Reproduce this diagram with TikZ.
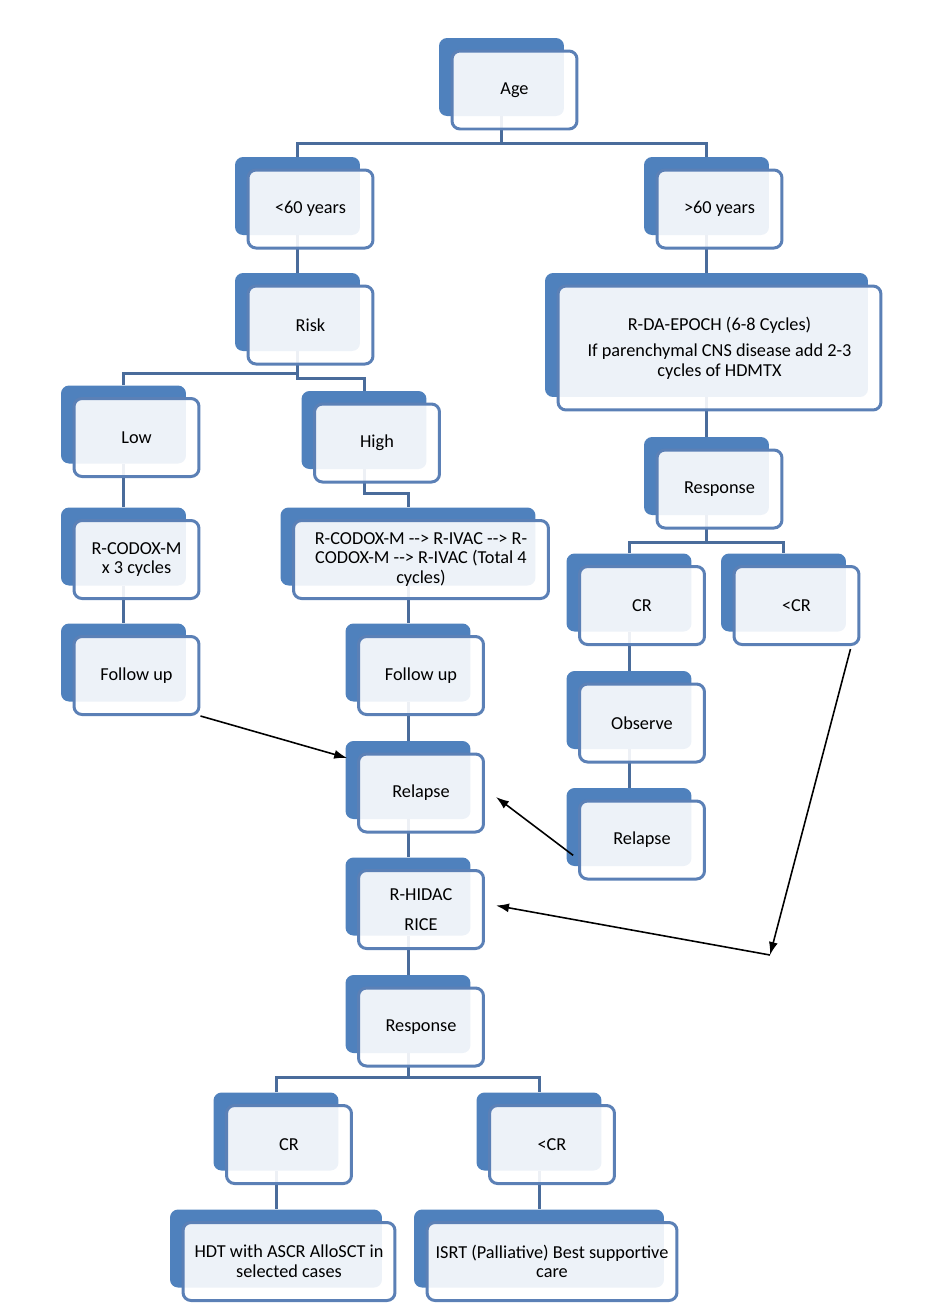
\documentclass[tikz,border=0pt]{standalone}
\usepackage{fontspec}
\setmainfont{Carlito}
\usetikzlibrary{calc,arrows.meta,backgrounds}
\definecolor{boxblue}{HTML}{4F81BD}
\definecolor{edgeblue}{HTML}{5B80B6}
\definecolor{tieblue}{HTML}{4A6C9B}
\tikzset{
	backbox/.style={rectangle, rounded corners=0.16cm, fill=boxblue, inner sep=0pt, minimum width=2.5cm, minimum height=1.56cm},
	frontbox/.style={rectangle, rounded corners=0.16cm, draw=edgeblue, line width=0.06cm, fill=white, fill opacity=0.9, text opacity=1, inner sep=0pt, minimum width=2.5cm, minimum height=1.56cm, align=center, font=\fontsize{10.4}{11.2}\selectfont},
	tie/.style={draw=tieblue, line width=0.06cm},
	flowarrow/.style={-{Latex[length=0.26cm,width=0.18cm]}, line width=0.9pt, black}
}
\def\darr{-\kern0pt->}
\newcommand\flowbox[4][]{%
	\node[backbox,#1] (#2) at (#3) {};
	\node[frontbox,#1] (#2-f) at ($(#2)+(13,13)$) {#4};
}

\begin{document}
\begin{tikzpicture}[x=0.02cm,y=-0.02cm]
		\useasboundingbox (0,0) rectangle (940,1313);
		%%%%% START %%%%%
		
		\flowbox{age}{501.5,77}{Age}
		\flowbox{young}{297.5,196}{<60 years}
		\flowbox{old}{706.5,196}{>60 years}
		\flowbox{risk}{297.5,312}{Risk}
		\flowbox[minimum width=6.46cm, minimum height=2.48cm]{epoch}{706.5,335}{R-DA-EPOCH (6-8 Cycles)\\[4pt]If parenchymal CNS disease add 2-3\\cycles of HDMTX}
		
		\flowbox{low}{123.5,424.5}{Low}
		\flowbox{high}{364,430}{High}
		\flowbox{respR}{706.5,476}{Response}
		
		\flowbox{codox}{123.5,546.5}{R-CODOX-M\\x 3 cycles}
		\flowbox[minimum width=5.1cm]{codoxlong}{408,546.5}{R-CODOX-M \darr{} R-IVAC \darr{} R-\\CODOX-M \darr{} R-IVAC (Total 4\\cycles)}
		\flowbox{crR}{629,592.5}{CR}
		\flowbox{lesscrR}{783.5,592.5}{<CR}
		
		\flowbox{follL}{123.5,662.5}{Follow up}
		\flowbox{follM}{408,662.5}{Follow up}
		\flowbox{observe}{629,710}{Observe}
		\flowbox{relapseM}{408,780}{Relapse}
		\flowbox{relapseR}{629,827}{Relapse}
		\flowbox{hidac}{408,896.5}{R-HIDAC\\[5.5pt]RICE}
		\flowbox{respB}{408,1014}{Response}
		
		\flowbox{crB}{276,1131.5}{CR}
		\flowbox{lesscrB}{539,1131.5}{<CR}
		\flowbox[minimum width=4.24cm]{hdt}{276,1248.5}{HDT with ASCR AlloSCT in\\selected cases}
		\flowbox[minimum width=5cm]{isrt}{539,1248.5}{ISRT (Palliative) Best supportive\\care}
		
		% tree lines, behind the boxes
		\begin{scope}[on background layer]
			\draw[tie] (age.south) -- ++(0,27) coordinate (agesplit);
			\draw[tie] (young.north) |- (agesplit) -| (old.north);
			\draw[tie] (young.south) -- (risk.north);
			\draw[tie] (risk.south) -- ++(0,22) coordinate (risksplit);
			\draw[tie] (low.north) |- (risksplit) -- ++(0,5) -| (high.north);
			\draw[tie] (high.south) -- ++(0,24) -| (codoxlong.north);
			\draw[tie] (low.south) -- (codox.north);
			\draw[tie] (codox.south) -- (follL.north);
			\draw[tie] (codoxlong.south) -- (follM.north);
			\draw[tie] (follM.south) -- (relapseM.north);
			\draw[tie] (relapseM.south) -- (hidac.north);
			\draw[tie] (hidac.south) -- (respB.north);
			\draw[tie] (respB.south) -- ++(0,24) coordinate (respBsplit);
			\draw[tie] (crB.north) |- (respBsplit) -| (lesscrB.north);
			\draw[tie] (crB.south) -- (hdt.north);
			\draw[tie] (lesscrB.south) -- (isrt.north);
			
			\draw[tie] (old.south) -- (epoch.north);
			\draw[tie] (epoch.south) -- (respR.north);
			\draw[tie] (respR.south) -- ++(0,27) coordinate (respRsplit);
			\draw[tie] (crR.north) |- (respRsplit) -| (lesscrR.north);
			\draw[tie] (crR.south) -- (observe.north);
			\draw[tie] (observe.south) -- (relapseR.north);
		\end{scope}
		
		% relapse arrows
		\coordinate (bend) at (770,955);
		\draw[flowarrow] (follL-f.south east) -- ($(relapseM.west)+(2,-22)$);
		\draw[flowarrow] ($(relapseR.south west)+(7,-11)$) -- ($(relapseM-f.east)+(11,4)$);
		\draw[flowarrow] ($(lesscrR-f.south east)+(-10,3)$) -- (bend);
		\draw[flowarrow] (bend) -- ($(hidac-f.east)+(11,-4)$);
		
		%%%%% END %%%%%
	\end{tikzpicture}
\end{document}
